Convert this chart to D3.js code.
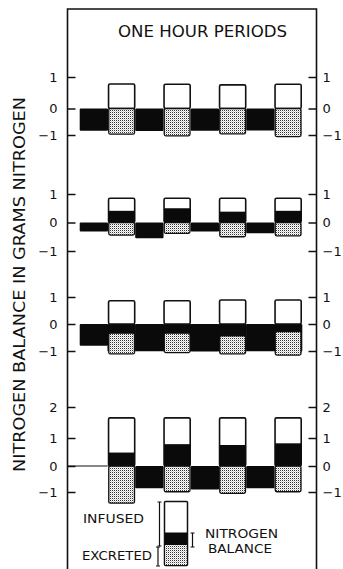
<!DOCTYPE html>
<html>
<head>
<meta charset="utf-8">
<script src="https://cdn.jsdelivr.net/npm/d3@7"></script>
<style>
  body { margin: 0; background: #fff; }
  svg { display: block; font-family: "DejaVu Sans", sans-serif; }
</style>
</head>
<body>
<svg width="343" height="569"></svg>
<script>
// one hour periods, infusion in the even ones
const periods = [1, 2, 3, 4, 5, 6, 7, 8]

// panel 1
const ticks1 = [-1, 0, 1]
const infused1 = [0, 0.78, 0, 0.77, 0, 0.75, 0, 0.77]
const retained1 = [0, 0, 0, 0, 0, 0, 0, 0]
const lost1 = [-0.84, null, -0.85, null, -0.84, null, -0.83, null]
const excretedFrom1 = [null, 0, null, 0, null, 0, null, 0]
const excretedTo1 = [null, -0.97, null, -1.03, null, -0.96, null, -1.06]

// panel 2
const ticks2 = [-1, 0, 1]
const infused2 = [0, 0.85, 0, 0.85, 0, 0.85, 0, 0.85]
const retained2 = [0, 0.41, 0, 0.5, 0, 0.38, 0, 0.41]
const lost2 = [-0.32, null, -0.55, null, -0.32, null, -0.38, null]
const excretedFrom2 = [null, 0, null, 0, null, 0, null, 0]
const excretedTo2 = [null, -0.44, null, -0.38, null, -0.5, null, -0.47]

// panel 3
const ticks3 = [-1, 0, 1]
const infused3 = [0, 0.86, 0, 0.86, 0, 0.89, 0, 0.89]
const retained3 = [0, 0, 0, 0, 0, 0, 0, 0]
const lost3 = [-0.81, -1.02, -1.01, -1.02, -1.02, -1.02, -1.01, -1.02]
const excretedFrom3 = [null, -0.34, null, -0.34, null, -0.44, null, -0.28]
const excretedTo3 = [null, -1.11, null, -1.06, null, -1.11, null, -1.15]

// panel 4
const ticks4 = [-1, 0, 1, 2]
const infused4 = [0, 1.65, 0, 1.65, 0, 1.65, 0, 1.65]
const retained4 = [0, 0.48, 0, 0.78, 0, 0.75, 0, 0.81]
const lost4 = [null, null, -0.86, null, -0.9, null, -0.86, null]
const excretedFrom4 = [null, 0, null, 0, null, 0, null, 0]
const excretedTo4 = [null, -1.43, null, -0.99, null, -1.05, null, -0.99]

const panels = [
    {ticks: ticks1, infused: infused1, retained: retained1, lost: lost1, exFrom: excretedFrom1, exTo: excretedTo1},
    {ticks: ticks2, infused: infused2, retained: retained2, lost: lost2, exFrom: excretedFrom2, exTo: excretedTo2},
    {ticks: ticks3, infused: infused3, retained: retained3, lost: lost3, exFrom: excretedFrom3, exTo: excretedTo3},
    {ticks: ticks4, infused: infused4, retained: retained4, lost: lost4, exFrom: excretedFrom4, exTo: excretedTo4, baseline: true}
]

// pixel positions of each panel's tick values (hand drawn, not quite even)
const yRanges = [[135, 108.5, 77], [251, 222.5, 194], [351, 324, 297], [492, 466, 438, 407]]

const svg = d3.select("svg")
const width = +svg.attr("width")
const height = +svg.attr("height")
const frame = {left: 67.5, right: 316.5, top: 9}

const x = d3.scaleBand().domain(periods).range([80, 302]).padding(0)

// stipple for excreted
const pat = svg.append("defs").append("pattern")
    .attr("id", "dots")
    .attr("width", 2).attr("height", 2)
    .attr("patternUnits", "userSpaceOnUse")
pat.append("rect").attr("width", 2).attr("height", 2).attr("fill", "#fff")
pat.append("rect").attr("width", 1).attr("height", 1).attr("fill", "#333")
pat.append("rect").attr("x", 1).attr("y", 1).attr("width", 1).attr("height", 1).attr("fill", "#ccc")

svg.append("path")
    .attr("d", `M${frame.left},${height}V${frame.top}H${frame.right}V${height}`)
    .attr("fill", "none")
    .attr("stroke", "#111")
    .attr("stroke-width", 1.6)

svg.append("text")
    .attr("x", 118).attr("y", 37)
    .attr("font-size", 15)
    .attr("textLength", 169)
    .attr("lengthAdjust", "spacingAndGlyphs")
    .attr("fill", "#111")
    .text("ONE HOUR PERIODS")

svg.append("text")
    .attr("transform", "translate(25,472) rotate(-90)")
    .attr("font-size", 15)
    .attr("textLength", 375)
    .attr("lengthAdjust", "spacingAndGlyphs")
    .attr("fill", "#111")
    .text("NITROGEN BALANCE IN GRAMS NITROGEN")

function span(y, a, b) {
    return {y: Math.min(y(a), y(b)), h: Math.abs(y(a) - y(b))}
}

panels.forEach((p, i) => {
    const y = d3.scaleLinear().domain(p.ticks).range(yRanges[i])
    const g = svg.append("g")
    const rows = periods.map((d, j) => ({
        period: d, infused: p.infused[j], retained: p.retained[j],
        lost: p.lost[j], exFrom: p.exFrom[j], exTo: p.exTo[j]
    }))

    if (p.baseline) {
        g.append("line")
            .attr("x1", frame.left).attr("x2", x(2))
            .attr("y1", y(0)).attr("y2", y(0))
            .attr("stroke", "#111").attr("stroke-width", 1.2)
    }

    // negative balance, black band
    g.selectAll(".lost")
        .data(rows.filter(d => d.lost != null))
        .enter().append("rect")
        .attr("x", d => x(d.period) - 0.3)
        .attr("width", x.bandwidth() + 0.6)
        .attr("y", d => span(y, 0, d.lost).y)
        .attr("height", d => span(y, 0, d.lost).h)
        .attr("rx", 1)
        .attr("fill", "#0a0a0a")

    // infused, white bar
    g.selectAll(".infused")
        .data(rows.filter(d => d.infused > 0))
        .enter().append("rect")
        .attr("x", d => x(d.period) + 0.8)
        .attr("width", x.bandwidth() - 1.6)
        .attr("y", d => span(y, 0, d.infused).y)
        .attr("height", d => span(y, 0, d.infused).h)
        .attr("rx", 1.5)
        .attr("fill", "#fff")
        .attr("stroke", "#111")
        .attr("stroke-width", 1.6)

    // positive balance inside the infused bar
    g.selectAll(".retained")
        .data(rows.filter(d => d.retained > 0))
        .enter().append("rect")
        .attr("x", d => x(d.period) + 0.8)
        .attr("width", x.bandwidth() - 1.6)
        .attr("y", d => span(y, 0, d.retained).y)
        .attr("height", d => span(y, 0, d.retained).h)
        .attr("fill", "#0a0a0a")

    // excreted, stippled
    g.selectAll(".excreted")
        .data(rows.filter(d => d.exTo != null))
        .enter().append("rect")
        .attr("x", d => x(d.period) + 1)
        .attr("width", x.bandwidth() - 2)
        .attr("y", d => span(y, d.exFrom, d.exTo).y)
        .attr("height", d => span(y, d.exFrom, d.exTo).h)
        .attr("rx", 1.5)
        .attr("fill", "url(#dots)")
        .attr("stroke", "#111")
        .attr("stroke-width", 1.3)

    const left = g.append("g")
        .attr("transform", `translate(${frame.left},0)`)
        .call(d3.axisLeft(y).tickValues(p.ticks).tickFormat(d3.format("d"))
            .tickSizeInner(-8).tickSizeOuter(0).tickPadding(10))
    const right = g.append("g")
        .attr("transform", `translate(${frame.right},0)`)
        .call(d3.axisRight(y).tickValues(p.ticks).tickFormat(d3.format("d"))
            .tickSizeInner(-8).tickSizeOuter(0).tickPadding(6))
    ;[left, right].forEach(a => {
        a.select(".domain").remove()
        a.attr("font-size", 13).attr("font-family", "DejaVu Sans, sans-serif")
        a.selectAll(".tick line").attr("stroke", "#111").attr("stroke-width", 1.5)
        a.selectAll(".tick text").attr("fill", "#111")
    })
})

// key
const key = svg.append("g")
key.append("rect").attr("x", 164.5).attr("y", 501.5).attr("width", 23).attr("height", 64)
    .attr("fill", "#fff").attr("stroke", "#111").attr("stroke-width", 1.5).attr("rx", 1)
key.append("rect").attr("x", 165).attr("y", 532.5).attr("width", 22).attr("height", 12.5).attr("fill", "#0a0a0a")
key.append("rect").attr("x", 165.3).attr("y", 545).attr("width", 21.4).attr("height", 20)
    .attr("fill", "url(#dots)")

function bracket(bx, y1, y2) {
    key.append("path")
        .attr("d", `M${bx - 2},${y1}H${bx + 2}M${bx},${y1}V${y2}M${bx - 2},${y2}H${bx + 2}`)
        .attr("fill", "none").attr("stroke", "#111").attr("stroke-width", 1.2)
}
bracket(159.5, 502, 546)
bracket(158, 547, 566)
bracket(192.5, 533, 547)

const keyText = [
    {t: "INFUSED", x: 83, y: 523, w: 61},
    {t: "EXCRETED", x: 82, y: 560, w: 70},
    {t: "NITROGEN", x: 205, y: 538, w: 73},
    {t: "BALANCE", x: 208, y: 553, w: 64}
]
key.selectAll(".lbl")
    .data(keyText)
    .enter().append("text")
    .attr("x", d => d.x).attr("y", d => d.y)
    .attr("textLength", d => d.w)
    .attr("lengthAdjust", "spacingAndGlyphs")
    .attr("font-size", 13)
    .attr("fill", "#111")
    .text(d => d.t)
</script>
</body>
</html>
